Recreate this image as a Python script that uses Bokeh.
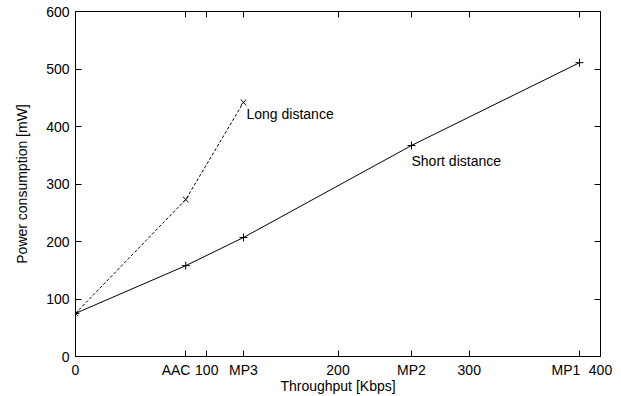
from bokeh.plotting import figure
from bokeh.models import (Range1d, FixedTicker, LinearAxis, Label,
                          CustomJSTickFormatter)
from bokeh.embed import file_html
from bokeh.resources import INLINE

# ---- data ----
codec_names = ["AAC", "MP3", "MP2", "MP1"]
codec_rates = [84, 128, 256, 384]
numeric_ticks = [0, 100, 200, 300, 400]
y_ticks = [0, 100, 200, 300, 400, 500, 600]

short_x = [0, 84, 128, 256, 384]
short_y = [75, 158, 207, 367, 511]
long_x = [0, 84, 128]
long_y = [75, 273, 442]

FONT = "Liberation Sans"
NB = "\u00a0"

p = figure(width=621, height=396, output_backend="svg", toolbar_location=None,
           x_range=Range1d(0, 400), y_range=Range1d(0, 600),
           min_border_left=75, min_border_right=21,
           min_border_top=11, min_border_bottom=39,
           background_fill_color="white", border_fill_color="white",
           x_axis_label="Throughput [Kbps]",
           y_axis_label="Power consumption [mW]")
p.grid.visible = False
p.outline_line_color = "black"
p.outline_line_width = 1

xticks = sorted(numeric_ticks + codec_rates)
# gnuplot-style padded labels: AAC and MP1 sit left of their ticks
pad = {"AAC": 5, "MP1": 7}
overrides = {r: n + NB * pad.get(n, 0) for r, n in zip(codec_rates, codec_names)}

for ax in p.xaxis:
    ax.ticker = FixedTicker(ticks=xticks)
    ax.major_label_overrides = overrides
for ax in p.yaxis:
    ax.ticker = FixedTicker(ticks=y_ticks)

for ax in list(p.xaxis) + list(p.yaxis):
    ax.major_tick_in = 6
    ax.major_tick_out = 0
    ax.minor_tick_line_color = None
    ax.axis_line_color = "black"
    ax.major_tick_line_color = "black"
    ax.major_label_text_font = FONT
    ax.major_label_text_font_size = "14px"
    ax.major_label_text_color = "black"
    ax.axis_label_text_font = FONT
    ax.axis_label_text_font_style = "normal"
    ax.axis_label_text_color = "black"
    ax.axis_label_text_font_size = "14px"

p.xaxis.major_label_standoff = 5
p.xaxis.axis_label_standoff = -3
p.yaxis.major_label_standoff = 6
p.yaxis.axis_label_standoff = 13

# mirrored tick marks on top and right
blank = CustomJSTickFormatter(code="return ''")
top = LinearAxis(ticker=FixedTicker(ticks=xticks), formatter=blank,
                 major_tick_in=6, major_tick_out=0, minor_tick_line_color=None,
                 axis_line_color=None, major_label_standoff=0,
                 major_label_text_font_size="1px")
right = LinearAxis(ticker=FixedTicker(ticks=y_ticks), formatter=blank,
                   major_tick_in=6, major_tick_out=0, minor_tick_line_color=None,
                   axis_line_color=None, major_label_standoff=0,
                   major_label_text_font_size="1px")
p.add_layout(top, "above")
p.add_layout(right, "right")

# series
p.line(short_x, short_y, line_color="black", line_width=1)
p.scatter(short_x, short_y, marker="cross", size=8, line_color="black")
p.line(long_x, long_y, line_color="black", line_width=1, line_dash="3 2")
p.scatter(long_x, long_y, marker="x", size=8, line_color="black")

p.add_layout(Label(x=long_x[-1], y=long_y[-1], text="Long distance",
                   x_offset=3, y_offset=-12, text_baseline="middle",
                   text_font=FONT, text_font_size="14px", text_color="black"))
p.add_layout(Label(x=short_x[-2], y=short_y[-2], text="Short distance",
                   x_offset=0, y_offset=-16, text_baseline="middle",
                   text_font=FONT, text_font_size="14px", text_color="black"))

open("out.html", "w").write(file_html(p, INLINE))
